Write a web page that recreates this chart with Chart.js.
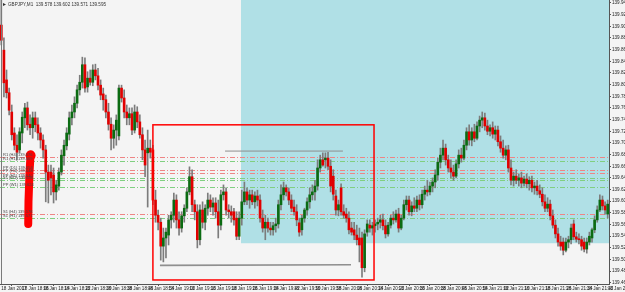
<!DOCTYPE html>
<html>
<head>
<meta charset="utf-8">
<script src="https://cdn.jsdelivr.net/npm/chart.js@4.4.1/dist/chart.umd.min.js"></script>
<style>
  html, body { margin: 0; padding: 0; background: #f4f4f4; }
  #chart { display: block; }
</style>
</head>
<body>
<canvas id="chart" width="625" height="292"></canvas>
<script>
// GBPJPY M1, one bar per minute from 18 Jan 17:58
const opens = [
  139.902, 139.859, 139.808, 139.786, 139.753, 139.717, 139.696, 139.688, 139.717, 139.743,
  139.760, 139.732, 139.726, 139.743, 139.731, 139.717, 139.705, 139.688, 139.650, 139.650,
  139.645, 139.616, 139.626, 139.650, 139.678, 139.695, 139.715, 139.743, 139.753, 139.768,
  139.791, 139.804, 139.834, 139.796, 139.811, 139.804, 139.825, 139.815, 139.799, 139.784,
  139.774, 139.753, 139.732, 139.708, 139.722, 139.712, 139.794, 139.777, 139.753, 139.743,
  139.750, 139.722, 139.753, 139.736, 139.714, 139.688, 139.683, 139.691, 139.688, 139.602,
  139.576, 139.564, 139.523, 139.537, 139.542, 139.568, 139.576, 139.602, 139.568, 139.554,
  139.575, 139.588, 139.616, 139.642, 139.594, 139.582, 139.534, 139.585, 139.564, 139.588,
  139.602, 139.590, 139.597, 139.582, 139.559, 139.611, 139.616, 139.585, 139.582, 139.582,
  139.571, 139.540, 139.571, 139.599, 139.616, 139.602, 139.611, 139.599, 139.609, 139.602,
  139.571, 139.554, 139.564, 139.554, 139.551, 139.558, 139.561, 139.594, 139.611, 139.623,
  139.616, 139.602, 139.590, 139.582, 139.563, 139.551, 139.571, 139.585, 139.599, 139.611,
  139.616, 139.626, 139.657, 139.671, 139.671, 139.674, 139.660, 139.643, 139.609, 139.585,
  139.623, 139.582, 139.578, 139.571, 139.554, 139.551, 139.542, 139.537, 139.537, 139.486,
  139.547, 139.559, 139.554, 139.558, 139.561, 139.564, 139.568, 139.558, 139.544, 139.559,
  139.571, 139.568, 139.578, 139.554, 139.571, 139.594, 139.602, 139.582, 139.592, 139.588,
  139.602, 139.594, 139.612, 139.619, 139.616, 139.626, 139.633, 139.645, 139.667, 139.679,
  139.691, 139.671, 139.657, 139.650, 139.643, 139.664, 139.679, 139.674, 139.696, 139.719,
  139.705, 139.719, 139.708, 139.729, 139.739, 139.743, 139.729, 139.720, 139.726, 139.715,
  139.722, 139.702, 139.691, 139.679, 139.688, 139.657, 139.636, 139.643, 139.636, 139.640,
  139.631, 139.638, 139.630, 139.636, 139.623, 139.626, 139.618, 139.612, 139.599, 139.588,
  139.595, 139.575, 139.559, 139.544, 139.530, 139.530, 139.516, 139.530, 139.534, 139.561,
  139.539, 139.535, 139.534, 139.530, 139.518, 139.530, 139.537, 139.551, 139.568, 139.585,
  139.602, 139.592, 139.578
];
const highs = [
  139.948, 139.880, 139.825, 139.794, 139.765, 139.726, 139.714, 139.726, 139.753, 139.768,
  139.770, 139.748, 139.753, 139.753, 139.743, 139.726, 139.714, 139.696, 139.662, 139.662,
  139.657, 139.636, 139.657, 139.688, 139.705, 139.726, 139.753, 139.765, 139.779, 139.799,
  139.816, 139.847, 139.846, 139.822, 139.825, 139.834, 139.835, 139.828, 139.808, 139.794,
  139.782, 139.768, 139.743, 139.731, 139.748, 139.799, 139.799, 139.791, 139.765, 139.760,
  139.760, 139.765, 139.762, 139.748, 139.726, 139.705, 139.722, 139.705, 139.696, 139.619,
  139.585, 139.571, 139.554, 139.554, 139.576, 139.582, 139.614, 139.611, 139.582, 139.582,
  139.594, 139.623, 139.659, 139.654, 139.602, 139.594, 139.594, 139.599, 139.594, 139.614,
  139.611, 139.606, 139.606, 139.602, 139.619, 139.628, 139.623, 139.594, 139.592, 139.588,
  139.582, 139.582, 139.619, 139.633, 139.623, 139.619, 139.619, 139.616, 139.619, 139.611,
  139.585, 139.576, 139.571, 139.564, 139.564, 139.571, 139.602, 139.628, 139.633, 139.628,
  139.623, 139.611, 139.602, 139.594, 139.571, 139.576, 139.588, 139.606, 139.623, 139.628,
  139.636, 139.671, 139.679, 139.683, 139.683, 139.684, 139.671, 139.654, 139.619, 139.602,
  139.630, 139.594, 139.588, 139.582, 139.564, 139.564, 139.559, 139.554, 139.547, 139.551,
  139.568, 139.568, 139.564, 139.568, 139.571, 139.576, 139.578, 139.568, 139.564, 139.576,
  139.582, 139.585, 139.588, 139.576, 139.602, 139.609, 139.609, 139.599, 139.606, 139.609,
  139.611, 139.619, 139.626, 139.636, 139.633, 139.640, 139.654, 139.674, 139.691, 139.705,
  139.698, 139.679, 139.671, 139.662, 139.671, 139.688, 139.691, 139.705, 139.726, 139.731,
  139.726, 139.732, 139.736, 139.746, 139.753, 139.751, 139.739, 139.731, 139.736, 139.729,
  139.729, 139.712, 139.705, 139.695, 139.696, 139.671, 139.650, 139.654, 139.647, 139.650,
  139.643, 139.647, 139.642, 139.643, 139.633, 139.636, 139.628, 139.623, 139.611, 139.606,
  139.602, 139.585, 139.568, 139.554, 139.540, 139.537, 139.537, 139.540, 139.561, 139.568,
  139.547, 139.544, 139.540, 139.537, 139.537, 139.547, 139.554, 139.575, 139.592, 139.611,
  139.609, 139.599, 139.602
];
const lows = [
  139.868, 139.779, 139.777, 139.748, 139.705, 139.688, 139.671, 139.683, 139.700, 139.726,
  139.722, 139.714, 139.708, 139.719, 139.705, 139.691, 139.674, 139.599, 139.597, 139.611,
  139.597, 139.602, 139.619, 139.645, 139.662, 139.688, 139.705, 139.731, 139.743, 139.760,
  139.782, 139.794, 139.787, 139.787, 139.799, 139.798, 139.808, 139.791, 139.774, 139.756,
  139.743, 139.722, 139.688, 139.691, 139.696, 139.705, 139.770, 139.743, 139.731, 139.731,
  139.714, 139.717, 139.726, 139.708, 139.671, 139.642, 139.590, 139.674, 139.594, 139.564,
  139.551, 139.499, 139.496, 139.503, 139.525, 139.554, 139.564, 139.554, 139.542, 139.547,
  139.564, 139.582, 139.611, 139.582, 139.568, 139.520, 139.525, 139.554, 139.551, 139.576,
  139.582, 139.576, 139.571, 139.537, 139.551, 139.602, 139.576, 139.571, 139.564, 139.559,
  139.534, 139.534, 139.559, 139.594, 139.594, 139.588, 139.594, 139.588, 139.592, 139.564,
  139.547, 139.534, 139.547, 139.542, 139.542, 139.547, 139.554, 139.585, 139.602, 139.609,
  139.594, 139.582, 139.576, 139.558, 139.540, 139.542, 139.564, 139.576, 139.588, 139.602,
  139.602, 139.619, 139.650, 139.660, 139.657, 139.654, 139.616, 139.602, 139.576, 139.575,
  139.576, 139.571, 139.564, 139.544, 139.542, 139.534, 139.525, 139.496, 139.470, 139.479,
  139.540, 139.547, 139.542, 139.547, 139.551, 139.554, 139.551, 139.537, 139.540, 139.554,
  139.561, 139.564, 139.547, 139.551, 139.568, 139.585, 139.576, 139.575, 139.582, 139.582,
  139.585, 139.588, 139.602, 139.609, 139.611, 139.616, 139.623, 139.636, 139.657, 139.671,
  139.662, 139.650, 139.640, 139.636, 139.640, 139.657, 139.667, 139.671, 139.688, 139.696,
  139.695, 139.702, 139.705, 139.719, 139.726, 139.722, 139.714, 139.712, 139.708, 139.705,
  139.695, 139.684, 139.674, 139.671, 139.650, 139.628, 139.626, 139.630, 139.626, 139.623,
  139.626, 139.623, 139.619, 139.616, 139.612, 139.611, 139.606, 139.592, 139.582, 139.582,
  139.568, 139.554, 139.537, 139.523, 139.516, 139.508, 139.513, 139.520, 139.527, 139.534,
  139.530, 139.527, 139.516, 139.513, 139.511, 139.525, 139.530, 139.546, 139.564, 139.582,
  139.585, 139.578, 139.571
];
const closes = [
  139.876, 139.803, 139.786, 139.756, 139.714, 139.696, 139.684, 139.719, 139.744, 139.760,
  139.731, 139.726, 139.743, 139.731, 139.717, 139.705, 139.688, 139.650, 139.636, 139.640,
  139.616, 139.628, 139.650, 139.679, 139.696, 139.717, 139.743, 139.753, 139.768, 139.791,
  139.804, 139.834, 139.794, 139.811, 139.804, 139.825, 139.815, 139.799, 139.782, 139.774,
  139.753, 139.732, 139.708, 139.722, 139.739, 139.794, 139.777, 139.753, 139.743, 139.750,
  139.722, 139.753, 139.736, 139.714, 139.688, 139.662, 139.691, 139.684, 139.602, 139.576,
  139.564, 139.523, 139.537, 139.547, 139.568, 139.576, 139.602, 139.568, 139.554, 139.575,
  139.588, 139.616, 139.642, 139.594, 139.582, 139.534, 139.585, 139.564, 139.588, 139.602,
  139.590, 139.597, 139.582, 139.559, 139.611, 139.616, 139.585, 139.582, 139.576, 139.568,
  139.540, 139.571, 139.599, 139.616, 139.602, 139.611, 139.599, 139.609, 139.602, 139.571,
  139.554, 139.564, 139.554, 139.551, 139.558, 139.561, 139.594, 139.611, 139.623, 139.616,
  139.602, 139.588, 139.582, 139.568, 139.547, 139.571, 139.585, 139.599, 139.611, 139.616,
  139.626, 139.657, 139.671, 139.662, 139.674, 139.660, 139.626, 139.612, 139.585, 139.594,
  139.582, 139.576, 139.571, 139.551, 139.547, 139.542, 139.534, 139.525, 139.486, 139.544,
  139.561, 139.554, 139.558, 139.561, 139.564, 139.568, 139.558, 139.544, 139.559, 139.571,
  139.568, 139.578, 139.554, 139.571, 139.594, 139.602, 139.582, 139.592, 139.588, 139.602,
  139.594, 139.612, 139.619, 139.616, 139.626, 139.633, 139.645, 139.667, 139.679, 139.691,
  139.671, 139.657, 139.650, 139.643, 139.664, 139.679, 139.674, 139.696, 139.719, 139.705,
  139.719, 139.708, 139.729, 139.739, 139.743, 139.729, 139.720, 139.726, 139.715, 139.722,
  139.702, 139.691, 139.679, 139.688, 139.657, 139.636, 139.643, 139.636, 139.640, 139.631,
  139.638, 139.630, 139.636, 139.623, 139.626, 139.618, 139.612, 139.599, 139.588, 139.595,
  139.575, 139.559, 139.544, 139.530, 139.523, 139.516, 139.530, 139.534, 139.554, 139.539,
  139.535, 139.534, 139.523, 139.518, 139.530, 139.540, 139.551, 139.568, 139.585, 139.602,
  139.592, 139.585, 139.595
];

// time axis labels, one every 8 bars
const timeLabels = [
  '18 Jan 2017', '18 Jan 18:06', '18 Jan 18:14', '18 Jan 18:22', '18 Jan 18:30', '18 Jan 18:38',
  '18 Jan 18:46', '18 Jan 18:54', '18 Jan 19:02', '18 Jan 19:10', '18 Jan 19:18', '18 Jan 19:26',
  '18 Jan 19:34', '18 Jan 19:42', '18 Jan 19:50', '18 Jan 19:58', '18 Jan 20:06', '18 Jan 20:14',
  '18 Jan 20:22', '18 Jan 20:30', '18 Jan 20:38', '18 Jan 20:46', '18 Jan 20:54', '18 Jan 21:02',
  '18 Jan 21:10', '18 Jan 21:18', '18 Jan 21:26', '18 Jan 21:34', '18 Jan 21:42', '18 Jan 21:50'
];
const priceTicks = [
  139.94, 139.92, 139.90, 139.88, 139.86, 139.84, 139.82, 139.80, 139.78, 139.76, 139.74, 139.72,
  139.70, 139.68, 139.66, 139.64, 139.62, 139.60, 139.58, 139.56, 139.54, 139.52, 139.50, 139.48, 139.46
];

// horizontal levels (r = red, g = green)
const levelPrices = [139.676, 139.669, 139.654, 139.648, 139.640, 139.636, 139.624, 139.578, 139.571];
const levelKinds  = ['r', 'g', 'r', 'r', 'g', 'g', 'g', 'r', 'g'];
const levelNames  = ['R1 (H4)', 'R1 (H1)', 'PP (D1)', 'PP (H4)', 'PP (H1)', 'S1 (W1)', 'PP (W1)', 'S1 (H4)', 'S1 (H1)'];

// drawn objects: [bar, price]
const zoneCorner = [91.7, 139.528];                  // cyan zone, extends to the right and top
const boxCorners = [[58.0, 139.731], [142.6, 139.465]];
const trendLines = [[85.6, 139.686, 130.7, 139.686], [60.7, 139.490, 133.8, 139.491]];
const markerPath = [[11.2, 139.680], [10.8, 139.650], [10.4, 139.600], [10.3, 139.561]];

const barIndex = opens.map((o, i) => i);
const bodies = opens.map((o, i) => [o, closes[i]]);
const wicks = lows.map((l, i) => [l, highs[i]]);
const bodyColors = opens.map((o, i) => closes[i] >= o ? '#0b6b12' : '#e10000');

Chart.defaults.font.family = 'Liberation Sans';

// keep the plot flush with the canvas edges, like the terminal does
function noPadding(s) {
  s.paddingLeft = 0;
  s.paddingRight = 0;
  s.paddingTop = 0;
  s.paddingBottom = 0;
}

const scenery = {
  id: 'scenery',
  beforeDatasetsDraw(chart) {
    const { ctx, chartArea: a, scales: { x, y } } = chart;
    ctx.save();
    const zx = x.getPixelForValue(zoneCorner[0]);
    const zy = y.getPixelForValue(zoneCorner[1]);
    ctx.fillStyle = '#b0e0e6';
    ctx.fillRect(zx, a.top, a.right - zx, zy - a.top);

    ctx.lineWidth = 1;
    ctx.setLineDash([5, 2, 1, 2]);
    levelPrices.forEach((p, i) => {
      const py = Math.round(y.getPixelForValue(p)) + 0.5;
      ctx.strokeStyle = levelKinds[i] === 'r' ? '#ee8585' : '#80cf80';
      ctx.beginPath();
      ctx.moveTo(a.left, py);
      ctx.lineTo(a.right, py);
      ctx.stroke();
    });
    ctx.restore();
  },
  afterDatasetsDraw(chart) {
    const { ctx, chartArea: a, scales: { x, y } } = chart;
    ctx.save();

    // left border
    ctx.strokeStyle = '#7a7a7a';
    ctx.lineWidth = 1;
    ctx.beginPath();
    ctx.moveTo(a.left + 1.5, a.top);
    ctx.lineTo(a.left + 1.5, a.bottom);
    ctx.stroke();

    // trend lines
    ctx.strokeStyle = '#8f8f8f';
    trendLines.forEach((t, i) => {
      ctx.lineWidth = i === 0 ? 1 : 1.6;
      ctx.beginPath();
      ctx.moveTo(x.getPixelForValue(t[0]), y.getPixelForValue(t[1]));
      ctx.lineTo(x.getPixelForValue(t[2]), y.getPixelForValue(t[3]));
      ctx.stroke();
    });

    // red box
    const bx1 = x.getPixelForValue(boxCorners[0][0]);
    const by1 = y.getPixelForValue(boxCorners[0][1]);
    const bx2 = x.getPixelForValue(boxCorners[1][0]);
    const by2 = y.getPixelForValue(boxCorners[1][1]);
    ctx.strokeStyle = '#ff0000';
    ctx.lineWidth = 1.5;
    ctx.strokeRect(bx1, by1, bx2 - bx1, by2 - by1);

    // hand drawn marker
    ctx.lineWidth = 8;
    ctx.lineCap = 'round';
    ctx.lineJoin = 'round';
    ctx.beginPath();
    markerPath.forEach((p, i) => {
      const px = x.getPixelForValue(p[0]);
      const py = y.getPixelForValue(p[1]);
      if (i === 0) ctx.moveTo(px, py); else ctx.lineTo(px, py);
    });
    ctx.stroke();
    ctx.fillStyle = '#ff0000';
    ctx.beginPath();
    ctx.arc(x.getPixelForValue(markerPath[0][0]), y.getPixelForValue(markerPath[0][1]) + 1, 5, 0, Math.PI * 2);
    ctx.fill();

    // level names
    ctx.font = '4px Liberation Sans';
    ctx.fillStyle = '#444';
    ctx.textBaseline = 'bottom';
    levelNames.forEach((n, i) => {
      ctx.fillText(n + ' ' + levelPrices[i].toFixed(3), a.left + 3, y.getPixelForValue(levelPrices[i]));
    });

    // symbol caption
    const last = opens.length - 1;
    ctx.fillStyle = '#333';
    ctx.beginPath();
    ctx.moveTo(a.left + 3, a.top + 3);
    ctx.lineTo(a.left + 6, a.top + 4.5);
    ctx.lineTo(a.left + 3, a.top + 6);
    ctx.fill();
    ctx.font = '4.6px Liberation Sans';
    ctx.textBaseline = 'middle';
    ctx.fillText('GBPJPY,M1  ' + [opens[last], highs[last], lows[last], closes[last]].map(v => v.toFixed(3)).join(' '),
      a.left + 8, a.top + 5);
    ctx.restore();
  }
};

new Chart(document.getElementById('chart'), {
  type: 'bar',
  data: {
    labels: barIndex,
    datasets: [
      { data: bodies, backgroundColor: bodyColors, barThickness: 2, minBarLength: 1, grouped: false, borderWidth: 0 },
      { data: wicks, backgroundColor: '#7c7c7c', barThickness: 1, grouped: false, borderWidth: 0 }
    ]
  },
  options: {
    responsive: false,
    animation: false,
    layout: { padding: 0, autoPadding: false },
    plugins: { legend: { display: false }, tooltip: { enabled: false } },
    scales: {
      x: {
        afterBuildTicks: s => { s.ticks = s.ticks.filter(t => t.value % 8 === 0); },
        afterFit: s => { s.height = 8; noPadding(s); },
        grid: { drawOnChartArea: false, tickLength: 2, color: '#555' },
        border: { color: '#555' },
        ticks: {
          autoSkip: false, maxRotation: 0, align: 'start', padding: 0,
          color: '#222', font: { size: 4.6 },
          callback: v => timeLabels[v / 8]
        }
      },
      y: {
        position: 'right',
        min: 139.4581,
        max: 139.945,
        afterBuildTicks: s => { s.ticks = priceTicks.map(v => ({ value: v })); },
        afterFit: s => { s.width = 16; noPadding(s); },
        grid: { drawOnChartArea: false, tickLength: 2, color: '#555' },
        border: { color: '#555' },
        ticks: { padding: 1, color: '#222', font: { size: 4.6 }, callback: v => v.toFixed(3) }
      }
    }
  },
  plugins: [scenery]
});
</script>
</body>
</html>
